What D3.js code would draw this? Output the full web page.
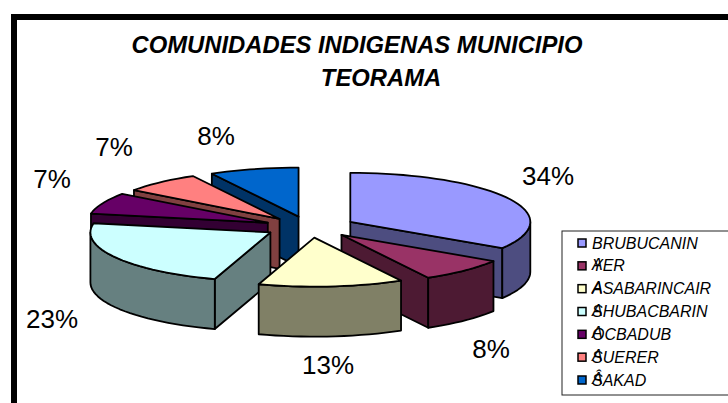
<!DOCTYPE html>
<html>
<head>
<meta charset="utf-8">
<script src="https://cdnjs.cloudflare.com/ajax/libs/d3/7.8.5/d3.min.js"></script>
<style>
html, body { margin: 0; padding: 0; background: #fff; overflow: hidden; }
svg { display: block; }
text { font-family: "Liberation Sans", Arial, sans-serif; fill: #000; }
</style>
</head>
<body>
<script>
const titleLines = ["COMUNIDADES INDIGENAS MUNICIPIO", "TEORAMA"]
const categories = ["BRUBUCANIN", "YER", "ASABARINCAIR", "SHUBACBARIN", "OCBADUB", "SUERER", "SAKAD"]
const overprint = ["", "A", "A", "A", "A", "A", "Â"]
const values = [34, 8, 13, 23, 7, 7, 8]
const topColors = ["#9999FF", "#993366", "#FFFFCC", "#CCFFFF", "#660066", "#FF8080", "#0066CC"]
const sideColors = ["#4D4D80", "#4D1A33", "#808066", "#668080", "#330033", "#804040", "#003366"]

const width = 728, height = 403

const svg = d3.select("body").append("svg")
    .attr("width", width)
    .attr("height", height)

// frame runs off the right edge, there is no bottom line in the picture
svg.append("path")
    .attr("d", d3.line()([[14, height], [14, 17], [width + 5, 17]]))
    .attr("fill", "none")
    .attr("stroke", "#000")
    .attr("stroke-width", 6)

svg.selectAll(".title")
    .data(titleLines)
    .enter()
    .append("text")
    .attr("class", "title")
    .attr("x", (d, i) => [357, 381][i])
    .attr("y", (d, i) => [53, 86][i])
    .attr("text-anchor", "middle")
    .attr("font-size", 23.8)
    .attr("font-weight", "bold")
    .attr("font-style", "italic")
    .text(d => d)

// fake 3d pie: flat ellipse plus a wall of fixed depth
const center = { x: 310, y: 227 }
const rx = 180, ry = 49, depth = 50
const explodeX = 46, explodeY = 10.7

const sx = d3.scaleLinear().domain([-1, 1]).range([-rx, rx])
const sy = d3.scaleLinear().domain([-1, 1]).range([-ry, ry])

const pie = d3.pie().sort(null)
const slices = pie(values).map((d, i) => {
    const mid = (d.startAngle + d.endAngle) / 2
    return {
        ...d,
        i,
        mid,
        cx: center.x + Math.sin(mid) * explodeX,
        cy: center.y - Math.cos(mid) * explodeY
    }
})

const rimPoint = (s, a, drop = 0) => [s.cx + sx(Math.sin(a)), s.cy + sy(-Math.cos(a)) + drop]

const arcAngles = (a0, a1) => {
    const steps = Math.max(2, Math.ceil((a1 - a0) / 0.05))
    return d3.range(steps + 1).map(k => a0 + (a1 - a0) * k / steps)
}

const line = d3.line()

const face = (g, pts, fill) => g.append("path")
    .attr("d", line(pts) + "Z")
    .attr("fill", fill)
    .attr("stroke", "#000")
    .attr("stroke-width", 1.8)
    .attr("stroke-linejoin", "round")

// back slices first
const order = slices.slice().sort((a, b) => d3.descending(Math.cos(a.mid), Math.cos(b.mid)))

const pieG = svg.append("g")

order.forEach(s => {
    const g = pieG.append("g")
    const side = sideColors[s.i]
    const apex = [s.cx, s.cy]
    const apexLow = [s.cx, s.cy + depth]

    if (Math.sin(s.startAngle) < -1e-6) {
        face(g, [apex, rimPoint(s, s.startAngle), rimPoint(s, s.startAngle, depth), apexLow], side)
    }
    if (Math.sin(s.endAngle) > 1e-6) {
        face(g, [apex, rimPoint(s, s.endAngle), rimPoint(s, s.endAngle, depth), apexLow], side)
    }

    const a0 = Math.max(s.startAngle, Math.PI / 2)
    const a1 = Math.min(s.endAngle, Math.PI * 3 / 2)
    if (a1 > a0) {
        const angles = arcAngles(a0, a1)
        face(g, angles.map(a => rimPoint(s, a)).concat(angles.slice().reverse().map(a => rimPoint(s, a, depth))), side)
    }

    face(g, [apex].concat(arcAngles(s.startAngle, s.endAngle).map(a => rimPoint(s, a))), topColors[s.i])
})

const labelPos = [[548, 185], [491, 358], [328, 374], [52, 328], [52, 188], [114, 156], [216, 145]]

svg.selectAll(".pct")
    .data(values)
    .enter()
    .append("text")
    .attr("class", "pct")
    .attr("x", (d, i) => labelPos[i][0])
    .attr("y", (d, i) => labelPos[i][1])
    .attr("text-anchor", "middle")
    .attr("font-size", 26)
    .text(d => d + "%")

// legend box is cut by the right edge too
const legend = svg.append("g")

legend.append("rect")
    .attr("x", 562)
    .attr("y", 231)
    .attr("width", 180)
    .attr("height", 164)
    .attr("fill", "#fff")
    .attr("stroke", "#222")
    .attr("stroke-width", 1)

const legendY = d3.scalePoint().domain(d3.range(categories.length)).range([243, 380])

legend.selectAll("rect.key")
    .data(categories)
    .enter()
    .append("rect")
    .attr("class", "key")
    .attr("x", 578)
    .attr("y", (d, i) => legendY(i) - 4)
    .attr("width", 8)
    .attr("height", 8)
    .attr("fill", (d, i) => topColors[i])
    .attr("stroke", "#000")
    .attr("stroke-width", 1.5)

legend.selectAll("text.name")
    .data(categories)
    .enter()
    .append("text")
    .attr("class", "name")
    .attr("x", 592)
    .attr("y", (d, i) => legendY(i) + 5.5)
    .attr("font-size", 16)
    .attr("font-style", "italic")
    .text(d => d)

legend.selectAll("text.over")
    .data(overprint)
    .enter()
    .append("text")
    .attr("class", "over")
    .attr("x", 592)
    .attr("y", (d, i) => legendY(i) + 4)
    .attr("font-size", 16)
    .attr("font-style", "italic")
    .text(d => d)
</script>
</body>
</html>
